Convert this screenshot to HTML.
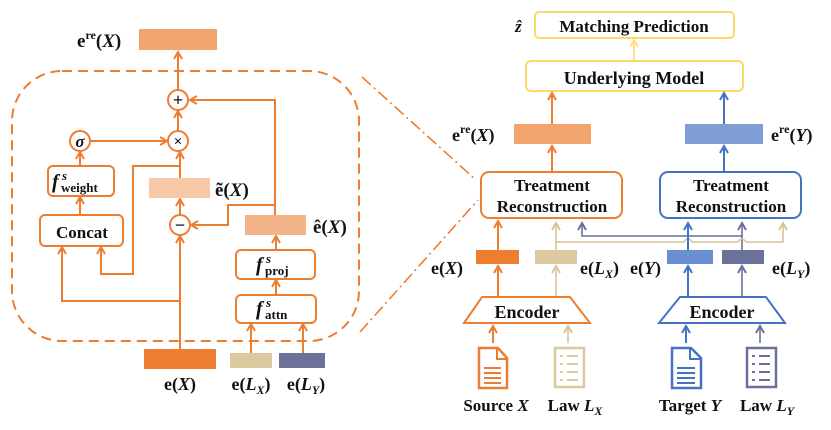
<!DOCTYPE html>
<html><head><meta charset="utf-8"><style>
html,body{margin:0;padding:0;background:#fff;width:831px;height:430px;overflow:hidden}
svg text{font-family:"Liberation Serif",serif;font-weight:bold;fill:#111}
</style></head><body>
<svg width="831" height="430" viewBox="0 0 831 430" xmlns="http://www.w3.org/2000/svg">
<defs>
<marker id="ao" markerWidth="10" markerHeight="10" refX="8" refY="5" orient="auto" markerUnits="userSpaceOnUse"><path d="M1,1 L8,5 L1,9" fill="none" stroke="#ed7d31" stroke-width="2"/></marker>
<marker id="ab" markerWidth="10" markerHeight="10" refX="8" refY="5" orient="auto" markerUnits="userSpaceOnUse"><path d="M1,1 L8,5 L1,9" fill="none" stroke="#4472c4" stroke-width="2"/></marker>
<marker id="at" markerWidth="10" markerHeight="10" refX="8" refY="5" orient="auto" markerUnits="userSpaceOnUse"><path d="M1,1 L8,5 L1,9" fill="none" stroke="#d9c49a" stroke-width="2"/></marker>
<marker id="ag" markerWidth="10" markerHeight="10" refX="8" refY="5" orient="auto" markerUnits="userSpaceOnUse"><path d="M1,1 L8,5 L1,9" fill="none" stroke="#6b7199" stroke-width="2"/></marker>
<marker id="ay" markerWidth="10" markerHeight="10" refX="8" refY="5" orient="auto" markerUnits="userSpaceOnUse"><path d="M1,1 L8,5 L1,9" fill="none" stroke="#ffe08a" stroke-width="2"/></marker>
</defs>

<!-- LEFT PANEL -->
<g fill="none" stroke="#ed7d31" stroke-width="2">
<rect x="12" y="71" width="347" height="270" rx="50" stroke-dasharray="10,6"/>
<path d="M362,77 L476,180" stroke-dasharray="12,4,2,4" stroke-width="1.6"/>
<path d="M360,332 L478,200" stroke-dasharray="12,4,2,4" stroke-width="1.6"/>
<circle cx="178" cy="100" r="10" fill="#fff"/>
<circle cx="178" cy="141" r="10" fill="#fff"/>
<circle cx="80" cy="141" r="10" fill="#fff"/>
<circle cx="180" cy="225" r="10" fill="#fff"/>
<rect x="48" y="166" width="66" height="30" rx="5" fill="#fff"/>
<rect x="40" y="215" width="83" height="31" rx="5" fill="#fff"/>
<rect x="236" y="250" width="79" height="29" rx="5" fill="#fff"/>
<rect x="236" y="295" width="80" height="28" rx="5" fill="#fff"/>
<line x1="178" y1="90" x2="178" y2="52" marker-end="url(#ao)"/>
<line x1="178" y1="131" x2="178" y2="111" marker-end="url(#ao)"/>
<line x1="90" y1="141" x2="167" y2="141" marker-end="url(#ao)"/>
<line x1="80" y1="166" x2="80" y2="152" marker-end="url(#ao)"/>
<line x1="80" y1="215" x2="80" y2="197" marker-end="url(#ao)"/>
<line x1="180" y1="178" x2="180" y2="152" marker-end="url(#ao)"/>
<line x1="180" y1="215" x2="180" y2="199" marker-end="url(#ao)"/>
<line x1="180" y1="349" x2="180" y2="236" marker-end="url(#ao)"/>
<polyline points="180,301 62,301 62,247" marker-end="url(#ao)"/>
<polyline points="180,166 133,166 133,274 101,274 101,247" marker-end="url(#ao)"/>
<polyline points="275,215 275,100 190,100" marker-end="url(#ao)"/>
<polyline points="275,205 228,205 228,225 191,225" marker-end="url(#ao)"/>
<line x1="276" y1="250" x2="276" y2="236" marker-end="url(#ao)"/>
<line x1="276" y1="295" x2="276" y2="280" marker-end="url(#ao)"/>
<line x1="251" y1="353" x2="251" y2="324" marker-end="url(#ao)"/>
<line x1="303" y1="353" x2="303" y2="324" marker-end="url(#ao)"/>
</g>
<rect x="139" y="29" width="78" height="21" fill="#f2a66e"/>
<rect x="149" y="178" width="61" height="20" fill="#f7c8a6"/>
<rect x="245" y="215" width="61" height="20" fill="#f2b488"/>
<rect x="144" y="349" width="72" height="20" fill="#ed7d31"/>
<rect x="230" y="353" width="42" height="15" fill="#dcc99f"/>
<rect x="279" y="353" width="46" height="15" fill="#6b7199"/>
<text x="178" y="106" font-size="18" text-anchor="middle" font-weight="normal">+</text>
<text x="178" y="146" font-size="15" text-anchor="middle">×</text>
<text x="80" y="147" font-size="17" text-anchor="middle" font-style="italic">σ</text>
<text x="180" y="231" font-size="18" text-anchor="middle" font-weight="normal">−</text>
<text x="77" y="47" font-size="19">e<tspan font-size="12" dy="-8">re</tspan><tspan dy="8">(</tspan><tspan font-style="italic">X</tspan>)</text>
<text x="52" y="188" font-size="20" font-style="italic">f</text>
<text x="62" y="180" font-size="13" font-style="italic">s</text>
<text x="61" y="192" font-size="13">weight</text>
<text x="82" y="238" font-size="17" text-anchor="middle">Concat</text>
<text x="215" y="196" font-size="19">ẽ(<tspan font-style="italic">X</tspan>)</text>
<text x="313" y="233" font-size="19">ê(<tspan font-style="italic">X</tspan>)</text>
<text x="256" y="271" font-size="20" font-style="italic">f</text>
<text x="266" y="263" font-size="13" font-style="italic">s</text>
<text x="265" y="275" font-size="13">proj</text>
<text x="256" y="315" font-size="20" font-style="italic">f</text>
<text x="266" y="307" font-size="13" font-style="italic">s</text>
<text x="265" y="319" font-size="13">attn</text>
<text x="180" y="390" font-size="18" text-anchor="middle">e(<tspan font-style="italic">X</tspan>)</text>
<text x="251" y="390" font-size="18" text-anchor="middle">e(<tspan font-style="italic">L</tspan><tspan font-size="12" font-style="italic" dy="4">X</tspan><tspan dy="-4">)</tspan></text>
<text x="306" y="390" font-size="18" text-anchor="middle">e(<tspan font-style="italic">L</tspan><tspan font-size="12" font-style="italic" dy="4">Y</tspan><tspan dy="-4">)</tspan></text>

<!-- RIGHT PANEL -->
<g fill="#fff" stroke="#ffd966" stroke-width="2">
<rect x="535" y="12" width="199" height="26" rx="4"/>
<rect x="526" y="61" width="217" height="30" rx="5"/>
</g>
<line x1="634" y1="60" x2="634" y2="40" stroke="#ffe08a" stroke-width="2" marker-end="url(#ay)"/>
<text x="515" y="32" font-size="17" font-style="italic">ẑ</text>
<text x="634" y="32" font-size="17" text-anchor="middle">Matching Prediction</text>
<text x="634" y="84" font-size="18" text-anchor="middle">Underlying Model</text>

<rect x="514" y="124" width="77" height="20" fill="#f2a66e"/>
<rect x="685" y="124" width="78" height="20" fill="#7f9fd6"/>
<text x="452" y="141" font-size="18">e<tspan font-size="12" dy="-8">re</tspan><tspan dy="8">(</tspan><tspan font-style="italic">X</tspan>)</text>
<text x="771" y="141" font-size="18">e<tspan font-size="12" dy="-8">re</tspan><tspan dy="8">(</tspan><tspan font-style="italic">Y</tspan>)</text>

<g fill="none" stroke-width="2">
<line x1="552" y1="124" x2="552" y2="93" stroke="#ed7d31" marker-end="url(#ao)"/>
<line x1="552" y1="172" x2="552" y2="146" stroke="#ed7d31" marker-end="url(#ao)"/>
<line x1="724" y1="124" x2="724" y2="93" stroke="#4472c4" marker-end="url(#ab)"/>
<line x1="724" y1="172" x2="724" y2="146" stroke="#4472c4" marker-end="url(#ab)"/>
<rect x="481" y="172" width="141" height="46" rx="8" stroke="#ed7d31" fill="#fff"/>
<rect x="660" y="172" width="141" height="46" rx="8" stroke="#4472c4" fill="#fff"/>
<polyline points="742,250 742,236 582,236 582,223" stroke="#6b7199" stroke-width="1.6" marker-end="url(#ag)"/>
<path d="M556,250 L556,242 L684,242 Q688,236 692,242 L738,242 Q742,236 746,242 L783,242 L783,223" stroke="#d9c49a" stroke-width="1.6" marker-end="url(#at)"/>
<line x1="556" y1="242" x2="556" y2="223" stroke="#d9c49a" stroke-width="1.6" marker-end="url(#at)"/>
<line x1="742" y1="236" x2="742" y2="223" stroke="#6b7199" stroke-width="1.6" marker-end="url(#ag)"/>
<line x1="688" y1="250" x2="688" y2="223" stroke="#4472c4" marker-end="url(#ab)"/>
<line x1="498" y1="250" x2="498" y2="221" stroke="#ed7d31" marker-end="url(#ao)"/>
<line x1="498" y1="297" x2="498" y2="266" stroke="#ed7d31" marker-end="url(#ao)"/>
<line x1="556" y1="297" x2="556" y2="266" stroke="#d9c49a" stroke-width="1.6" marker-end="url(#at)"/>
<line x1="688" y1="297" x2="688" y2="266" stroke="#4472c4" marker-end="url(#ab)"/>
<line x1="742" y1="297" x2="742" y2="266" stroke="#6b7199" stroke-width="1.6" marker-end="url(#ag)"/>
<polygon points="464,323 482,297 570,297 590,323" stroke="#ed7d31" fill="#fff"/>
<polygon points="659,323 680,297 766,297 785,323" stroke="#4472c4" fill="#fff"/>
<line x1="493" y1="343" x2="493" y2="326" stroke="#ed7d31" marker-end="url(#ao)"/>
<line x1="568" y1="343" x2="568" y2="326" stroke="#d9c49a" stroke-width="1.6" marker-end="url(#at)"/>
<line x1="686" y1="343" x2="686" y2="326" stroke="#4472c4" marker-end="url(#ab)"/>
<line x1="760" y1="343" x2="760" y2="326" stroke="#6b7199" stroke-width="1.6" marker-end="url(#ag)"/>
</g>
<text x="552" y="191" font-size="17" text-anchor="middle">Treatment</text>
<text x="552" y="212" font-size="17" text-anchor="middle">Reconstruction</text>
<text x="731" y="191" font-size="17" text-anchor="middle">Treatment</text>
<text x="731" y="212" font-size="17" text-anchor="middle">Reconstruction</text>

<rect x="476" y="250" width="43" height="14" fill="#ed7d31"/>
<rect x="535" y="250" width="42" height="14" fill="#dcc99f"/>
<rect x="667" y="250" width="46" height="14" fill="#6a8fd0"/>
<rect x="722" y="250" width="42" height="14" fill="#6b7199"/>
<text x="431" y="274" font-size="18">e(<tspan font-style="italic">X</tspan>)</text>
<text x="580" y="274" font-size="18">e(<tspan font-style="italic">L</tspan><tspan font-size="12" font-style="italic" dy="4">X</tspan><tspan dy="-4">)</tspan></text>
<text x="630" y="274" font-size="18">e(<tspan font-style="italic">Y</tspan>)</text>
<text x="772" y="274" font-size="18">e(<tspan font-style="italic">L</tspan><tspan font-size="12" font-style="italic" dy="4">Y</tspan><tspan dy="-4">)</tspan></text>
<text x="527" y="318" font-size="18" text-anchor="middle">Encoder</text>
<text x="722" y="318" font-size="18" text-anchor="middle">Encoder</text>

<g fill="none" stroke-width="2.5">
<path d="M479,348 L498,348 L507,358 L507,388 L479,388 Z" stroke="#ed7d31"/>
<path d="M497,348 L497,359 L507,359" stroke="#ed7d31" stroke-width="2"/>
<path d="M484,368 H501 M484,373 H501 M484,378 H501 M484,383 H501" stroke="#ed7d31" stroke-width="2"/>
<path d="M672,348 L691,348 L701,358 L701,388 L672,388 Z" stroke="#4472c4"/>
<path d="M690,348 L690,359 L701,359" stroke="#4472c4" stroke-width="2"/>
<path d="M677,368 H695 M677,373 H695 M677,378 H695 M677,383 H695" stroke="#4472c4" stroke-width="2"/>
<rect x="555" y="348" width="29" height="39" stroke="#dcc99f"/>
<path d="M560,356 h3 M567,356 h11 M560,364 h3 M567,364 h11 M560,372 h3 M567,372 h11 M560,380 h3 M567,380 h11" stroke="#dcc99f" stroke-width="2"/>
<rect x="747" y="348" width="29" height="39" stroke="#6b7199"/>
<path d="M752,356 h3 M759,356 h11 M752,364 h3 M759,364 h11 M752,372 h3 M759,372 h11 M752,380 h3 M759,380 h11" stroke="#6b7199" stroke-width="2"/>
</g>
<text x="496" y="411" font-size="17" text-anchor="middle">Source <tspan font-style="italic">X</tspan></text>
<text x="575" y="411" font-size="17" text-anchor="middle">Law <tspan font-style="italic">L</tspan><tspan font-size="12" font-style="italic" dy="4">X</tspan></text>
<text x="690" y="411" font-size="17" text-anchor="middle">Target <tspan font-style="italic">Y</tspan></text>
<text x="767" y="411" font-size="17" text-anchor="middle">Law <tspan font-style="italic">L</tspan><tspan font-size="12" font-style="italic" dy="4">Y</tspan></text>
</svg>
</body></html>
